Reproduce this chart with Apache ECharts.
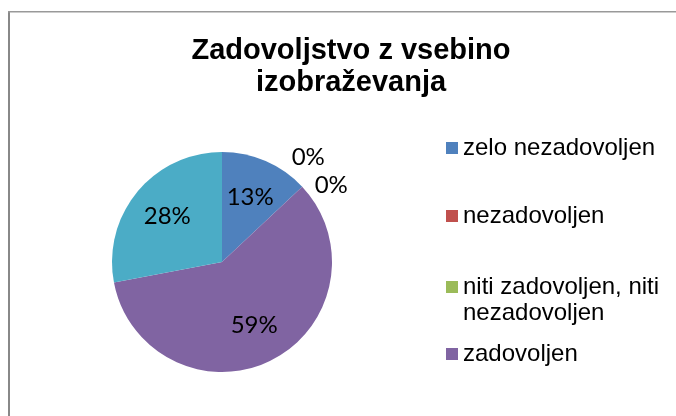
<!DOCTYPE html>
<html>
<head>
<meta charset="utf-8">
<script src="https://cdn.jsdelivr.net/npm/echarts@6/dist/echarts.min.js"></script>
<style>
  html, body { margin: 0; padding: 0; background: #fff; }
  #main { width: 676px; height: 416px; }
</style>
</head>
<body>
<div id="main"></div>
<script>
  var titleText = 'Zadovoljstvo z vsebino\nizobraževanja'
  var categories = ['zelo nezadovoljen', 'nezadovoljen', 'niti zadovoljen, niti nezadovoljen', 'zadovoljen', 'zelo zadovoljen']
  var values = [13, 0, 0, 59, 28]
  var colors = ['#4F81BD', '#C0504D', '#9BBB59', '#8064A2', '#4BACC6']
  // only the first four fit into the legend of the original
  var legendNames = categories.slice(0, 4)
  var legendTops = [135, 203, 274, 341]
  var legendFont = 'Liberation Sans, Arial, sans-serif'
  var legendSize = 24

  var myChart = echarts.init(document.getElementById('main'))

  // long legend names wrap before the last word
  function splitName (name) {
    var k = name.lastIndexOf(' ')
    return name.indexOf(',') > 0 ? [name.slice(0, k), name.slice(k + 1)] : [name]
  }

  // real slices, only the zero slices get their (outside) label here
  var sliceData = categories.map(function (name, i) {
    return {
      name: name,
      value: values[i],
      itemStyle: { color: colors[i] },
      label: { show: values[i] === 0 }
    }
  })
  // transparent helper pie: puts the inside labels further out than r/2
  var labelData = categories.map(function (name, i) {
    return {
      name: name,
      value: values[i],
      itemStyle: { color: 'rgba(0,0,0,0)' },
      label: { show: values[i] !== 0 }
    }
  })

  var legends = []
  var extraText = []
  legendNames.forEach(function (name, i) {
    var parts = splitName(name)
    legends.push({
      left: 446,
      top: legendTops[i],
      padding: 0,
      icon: 'rect',
      itemWidth: 12,
      itemHeight: 12,
      selectedMode: false,
      data: [{ name: name, itemStyle: { color: colors[i] } }],
      formatter: function (n) {
        return splitName(n)[0]
      },
      textStyle: {
        fontFamily: legendFont,
        fontSize: legendSize,
        color: '#000',
        lineHeight: 26
      }
    })
    if (parts.length > 1) {
      extraText.push({
        type: 'text',
        x: 463,
        y: legendTops[i] + 13 + 26,
        style: {
          text: parts[1],
          font: legendSize + 'px ' + legendFont,
          fill: '#000',
          verticalAlign: 'middle'
        },
        silent: true
      })
    }
  })

  var option = {
    animation: false,
    title: {
      text: titleText,
      left: 346,
      top: 30,
      textAlign: 'center',
      textStyle: {
        fontFamily: 'Liberation Sans, Arial, sans-serif',
        fontSize: 29,
        fontWeight: 'bold',
        color: '#000',
        lineHeight: 32
      }
    },
    legend: legends,
    graphic: [
      { type: 'rect', shape: { x: 8, y: 11, width: 2, height: 405 }, style: { fill: '#888' }, silent: true },
      { type: 'rect', shape: { x: 8, y: 11, width: 668, height: 1.5 }, style: { fill: '#999' }, silent: true }
    ].concat(extraText),
    series: [
      {
        type: 'pie',
        center: [222, 262],
        radius: 110,
        startAngle: 90,
        clockwise: true,
        avoidLabelOverlap: false,
        data: sliceData,
        itemStyle: { borderWidth: 0 },
        label: {
          position: 'outside',
          formatter: '{d}%',
          fontFamily: 'Lato, sans-serif',
          fontSize: 24,
          color: '#000'
        },
        labelLine: { show: false, length: 2, length2: 6 },
        // the two 0% labels sit side by side, the first one up and to the left
        labelLayout: function (params) {
          if (params.dataIndex === 1) {
            return { dx: -23, dy: -28 }
          }
        },
        emphasis: { disabled: true }
      },
      {
        type: 'pie',
        center: [222, 262],
        radius: 136,
        startAngle: 90,
        clockwise: true,
        silent: true,
        data: labelData,
        label: {
          position: 'inside',
          formatter: '{d}%',
          fontFamily: 'Lato, sans-serif',
          fontSize: 24,
          color: '#000'
        },
        labelLine: { show: false },
        emphasis: { disabled: true }
      }
    ]
  }
  myChart.setOption(option)
</script>
</body>
</html>
